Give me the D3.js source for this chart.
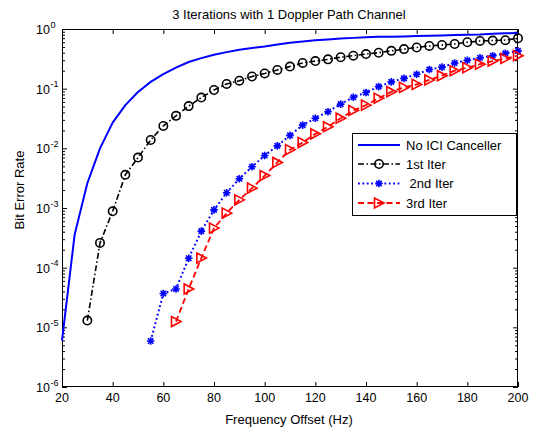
<!DOCTYPE html>
<html>
<head>
<meta charset="utf-8">
<script src="https://cdn.jsdelivr.net/npm/d3@7"></script>
<style>
  html, body { margin: 0; padding: 0; background: #fff; }
  svg { display: block; font-family: "Liberation Sans", Arial, Helvetica, sans-serif; }
</style>
</head>
<body>
<svg id="chart" width="536" height="430"></svg>
<script>
// Frequency offsets (Hz) for each curve
const xNoICI = d3.range(20, 201, 5);
const xIter1 = d3.range(30, 201, 5);
const xIter2 = d3.range(55, 201, 5);
const xIter3 = d3.range(65, 201, 5);

// Bit error rate values
const berNoICI = [6e-6, 3.6e-4, 2.6e-3, 1.0e-2, 2.7e-2, 5.3e-2, 8.8e-2, 0.13, 0.175, 0.225,
  0.28, 0.325, 0.37, 0.41, 0.45, 0.48, 0.51, 0.55, 0.59, 0.62,
  0.65, 0.67, 0.69, 0.71, 0.73, 0.74, 0.745, 0.75, 0.76, 0.77,
  0.78, 0.79, 0.80, 0.81, 0.83, 0.845, 0.86];
const berIter1 = [1.3e-5, 2.6e-4, 8.8e-4, 3.6e-3, 7.0e-3, 1.38e-2, 2.37e-2, 3.5e-2, 5.1e-2, 7.1e-2,
  9.5e-2, 0.12, 0.136, 0.16, 0.18, 0.206, 0.235, 0.27, 0.29, 0.31,
  0.336, 0.357, 0.38, 0.40, 0.43, 0.46, 0.49, 0.52, 0.54, 0.56,
  0.60, 0.63, 0.64, 0.65, 0.70];
const berIter2 = [5.9e-6, 3.7e-5, 4.4e-5, 1.44e-4, 4.1e-4, 9.3e-4, 1.8e-3, 3.1e-3, 4.9e-3, 7.6e-3,
  1.1e-2, 1.65e-2, 2.45e-2, 3.2e-2, 4.1e-2, 5.5e-2, 7.2e-2, 8.6e-2, 0.108, 0.13,
  0.149, 0.174, 0.21, 0.23, 0.27, 0.30, 0.33, 0.357, 0.39, 0.43];
const berIter3 = [1.25e-5, 4.4e-5, 1.45e-4, 4.6e-4, 8.2e-4, 1.37e-3, 2.15e-3, 3.5e-3, 5.8e-3, 9.5e-3,
  1.25e-2, 1.75e-2, 2.3e-2, 3.2e-2, 4.3e-2, 5.3e-2, 6.9e-2, 8.9e-2, 0.105, 0.118,
  0.14, 0.165, 0.2, 0.225, 0.257, 0.29, 0.32, 0.357];

const seriesNames = ["No ICI Canceller", "1st Iter", " 2nd Iter", "3rd Iter"];
const xTickValues = d3.range(20, 201, 20);
const yExponents = [-6, -5, -4, -3, -2, -1, 0];

const titleText = "3 Iterations with 1 Doppler Path Channel";
const xLabelText = "Frequency Offset (Hz)";
const yLabelText = "Bit Error Rate";

// Layout
const W = 536, H = 430;
const plot = { left: 62, right: 518, top: 29, bottom: 387 };

const svg = d3.select("#chart");

const x = d3.scaleLinear().domain([20, 200]).range([plot.left, plot.right]);
const y = d3.scaleLog().domain([1e-6, 1]).range([plot.bottom, plot.top]);

const series = [
  { name: seriesNames[0], xs: xNoICI, ys: berNoICI, color: "#0000ff", width: 2, dash: null, marker: null },
  { name: seriesNames[1], xs: xIter1, ys: berIter1, color: "#000000", width: 1.6, dash: "6,2.5,1.5,2.5", marker: "circle" },
  { name: seriesNames[2], xs: xIter2, ys: berIter2, color: "#0000ff", width: 2, dash: "1.8,2.6", marker: "star" },
  { name: seriesNames[3], xs: xIter3, ys: berIter3, color: "#ff0000", width: 1.8, dash: "6,3.5", marker: "triangle" }
];

// Plot background
svg.append("rect").attr("x", plot.left).attr("y", plot.top)
  .attr("width", plot.right - plot.left).attr("height", plot.bottom - plot.top)
  .attr("fill", "#fff");

// Axes with inward ticks on all four sides
const minorY = [];
yExponents.slice(0, -1).forEach(e => { for (let k = 2; k <= 9; k++) minorY.push(k * Math.pow(10, e)); });
const majorY = yExponents.map(e => Math.pow(10, e));

const axisG = svg.append("g").attr("stroke", "#000").attr("stroke-width", 1).attr("fill", "none");

function axisTicks(gen, transform) {
  const g = svg.append("g").attr("transform", transform).call(gen);
  g.select(".domain").remove();
  g.selectAll(".tick text").remove();
  g.selectAll(".tick line").attr("stroke", "#000").attr("stroke-width", 1);
  return g;
}
// x ticks bottom & top
axisTicks(d3.axisBottom(x).tickValues(xTickValues).tickSizeInner(-5).tickSizeOuter(0), `translate(0,${plot.bottom})`);
axisTicks(d3.axisTop(x).tickValues(xTickValues).tickSizeInner(-5).tickSizeOuter(0), `translate(0,${plot.top})`);
// y major ticks left & right
axisTicks(d3.axisLeft(y).tickValues(majorY).tickSizeInner(-5).tickSizeOuter(0), `translate(${plot.left},0)`);
axisTicks(d3.axisRight(y).tickValues(majorY).tickSizeInner(-5).tickSizeOuter(0), `translate(${plot.right},0)`);
// y minor ticks left & right
axisTicks(d3.axisLeft(y).tickValues(minorY).tickSizeInner(-3).tickSizeOuter(0), `translate(${plot.left},0)`);
axisTicks(d3.axisRight(y).tickValues(minorY).tickSizeInner(-3).tickSizeOuter(0), `translate(${plot.right},0)`);

// frame
svg.append("rect").attr("x", plot.left + 0.5).attr("y", plot.top + 0.5)
  .attr("width", plot.right - plot.left - 1).attr("height", plot.bottom - plot.top - 1)
  .attr("fill", "none").attr("stroke", "#000").attr("stroke-width", 1);

// x tick labels
svg.append("g").selectAll("text").data(xTickValues).join("text")
  .attr("x", d => x(d)).attr("y", plot.bottom + 15)
  .attr("text-anchor", "middle").attr("font-size", 12.5).attr("fill", "#000")
  .text(d => d);

// y tick labels as 10^n
const yl = svg.append("g").selectAll("g").data(yExponents).join("g")
  .attr("transform", d => `translate(0,${y(Math.pow(10, d))})`);
yl.append("text").attr("x", 50).attr("y", 5).attr("text-anchor", "end")
  .attr("font-size", 12.5).attr("fill", "#000").text("10");
yl.append("text").attr("x", 50.5).attr("y", -1.5).attr("text-anchor", "start")
  .attr("font-size", 9).attr("fill", "#000").text(d => d === 0 ? "0" : "-" + Math.abs(d));

// Titles
svg.append("text").attr("x", 289).attr("y", 19).attr("text-anchor", "middle")
  .attr("font-size", 13).attr("fill", "#000").text(titleText);
svg.append("text").attr("x", 289).attr("y", 424).attr("text-anchor", "middle")
  .attr("font-size", 13).attr("fill", "#000").text(xLabelText);
svg.append("text").attr("transform", "translate(24,190) rotate(-90)").attr("text-anchor", "middle")
  .attr("font-size", 13).attr("fill", "#000").text(yLabelText);

// Marker shapes
function markerPath(type) {
  if (type === "circle") return d3.symbol(d3.symbolCircle, Math.PI * 4.2 * 4.2)();
  if (type === "star") {
    const r = 3.8, a = r * 0.72;
    return `M${-r},0L${r},0M0,${-r}L0,${r}M${-a},${-a}L${a},${a}M${-a},${a}L${a},${-a}`;
  }
  if (type === "triangle") return "M5,0L-4.5,-5L-4.5,5Z";
  return null;
}

const line = d3.line().x(d => x(d[0])).y(d => y(d[1]));

const linesG = svg.append("g");
series.forEach(s => {
  const pts = s.xs.map((v, i) => [v, s.ys[i]]);
  linesG.append("path").datum(pts)
    .attr("d", line)
    .attr("fill", "none").attr("stroke", s.color).attr("stroke-width", s.width)
    .attr("stroke-dasharray", s.dash).attr("stroke-linejoin", "round");
  if (s.marker) {
    linesG.append("g").selectAll("path").data(pts).join("path")
      .attr("transform", d => `translate(${x(d[0])},${y(d[1])})`)
      .attr("d", markerPath(s.marker))
      .attr("fill", "none").attr("stroke", s.color)
      .attr("stroke-width", s.marker === "star" ? 1.6 : 1.6);
  }
});

// Legend
const lg = svg.append("g").attr("transform", "translate(352,133)");
lg.append("rect").attr("x", 0.5).attr("y", 0.5).attr("width", 164).attr("height", 82)
  .attr("fill", "#fff").attr("stroke", "#000").attr("stroke-width", 1);
const rowY = [12, 31, 50.5, 70];
series.forEach((s, i) => {
  const r = lg.append("g").attr("transform", `translate(0,${rowY[i]})`);
  r.append("line").attr("x1", 6).attr("x2", 48).attr("y1", 0).attr("y2", 0)
    .attr("stroke", s.color).attr("stroke-width", s.width).attr("stroke-dasharray", s.dash);
  if (s.marker) {
    r.append("path").attr("transform", "translate(27,0)").attr("d", markerPath(s.marker))
      .attr("fill", "none").attr("stroke", s.color).attr("stroke-width", 1.6);
  }
  r.append("text").attr("x", 54).attr("y", 4.5).attr("font-size", 13).attr("fill", "#000")
    .attr("xml:space", "preserve").style("white-space", "pre").text(s.name);
});
</script>
</body>
</html>
